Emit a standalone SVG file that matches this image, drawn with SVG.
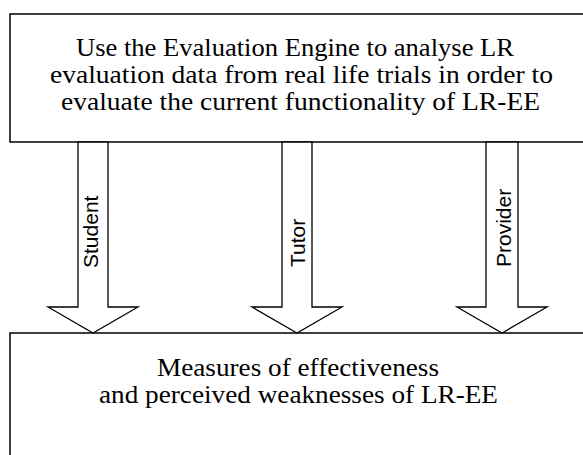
<svg xmlns="http://www.w3.org/2000/svg" width="583" height="455" viewBox="0 0 583 455">
<style>
.box{fill:#fff;stroke:#000;stroke-width:1.5}
.arr{fill:#fff;stroke:#000;stroke-width:1.3;stroke-linejoin:miter}
.t{font-family:"Liberation Serif","Times New Roman",serif;font-size:26px;fill:#000;text-anchor:middle}
.l{font-family:"Liberation Sans",Arial,sans-serif;font-size:21px;fill:#000}
</style>
<rect width="583" height="455" fill="#fff"/>
<g id="top">
<rect class="box" x="10" y="14" width="600" height="128"/>
<text class="t" x="295" y="56" textLength="438" lengthAdjust="spacingAndGlyphs">Use the Evaluation Engine to analyse LR</text>
<text class="t" x="301.5" y="83" textLength="503" lengthAdjust="spacingAndGlyphs">evaluation data from real life trials in order to</text>
<text class="t" x="300.5" y="110" textLength="479" lengthAdjust="spacingAndGlyphs">evaluate the current functionality of LR-EE</text>
</g>
<g id="bottom">
<rect class="box" x="10" y="333" width="600" height="200"/>
<text class="t" x="298" y="376" textLength="282" lengthAdjust="spacingAndGlyphs">Measures of effectiveness</text>
<text class="t" x="298.5" y="403" textLength="399" lengthAdjust="spacingAndGlyphs">and perceived weaknesses of LR-EE</text>
</g>
<g id="connectors">
<g id="student">
<polygon class="arr" points="78,142 108,142 108,307 138,307 93,333 48,307 78,307"/>
<text class="l" transform="translate(98,268) rotate(-90)">Student</text>
</g>
<g id="tutor">
<polygon class="arr" points="282,142 312,142 312,307 342,307 297,333 252,307 282,307"/>
<text class="l" transform="translate(305,267) rotate(-90)">Tutor</text>
</g>
<g id="provider">
<polygon class="arr" points="486,142 518,142 518,307 547,307 502,333 457,307 486,307"/>
<text class="l" transform="translate(511,267) rotate(-90)">Provider</text>
</g>
</g>
</svg>
